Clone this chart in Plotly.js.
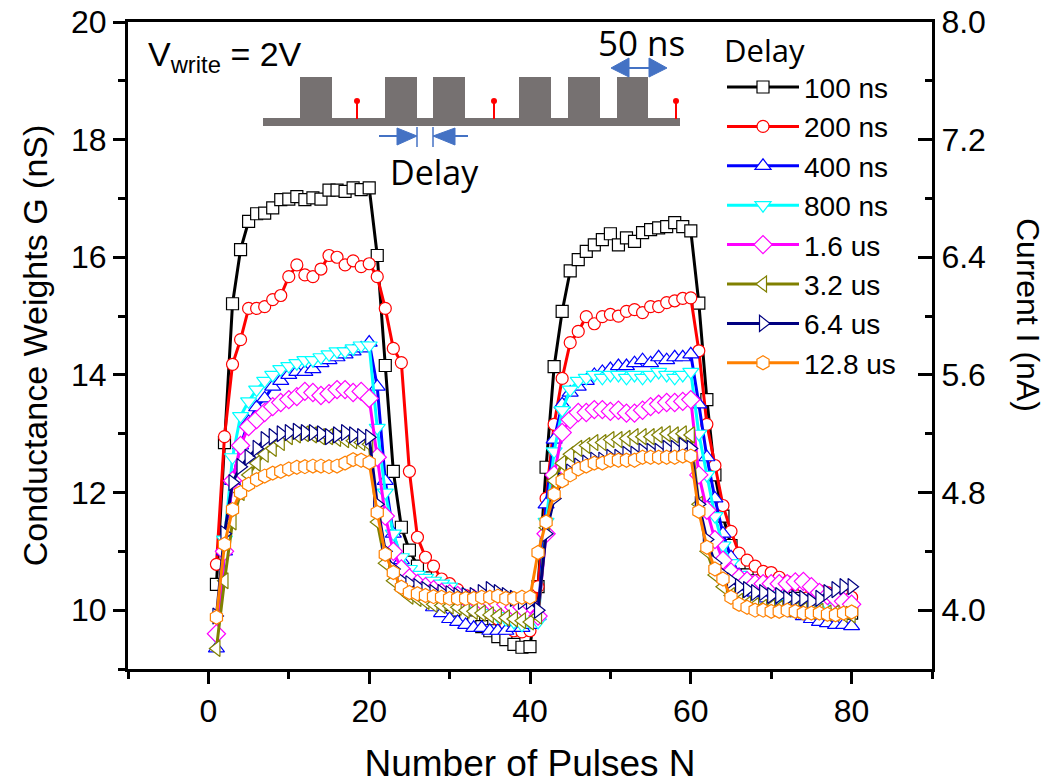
<!DOCTYPE html>
<html>
<head>
<meta charset="utf-8">
<script src="https://cdn.plot.ly/plotly-3.0.1.min.js"></script>
<style>html,body{margin:0;padding:0;background:#fff;}#chart{width:1060px;height:784px;}</style>
</head>
<body>
<div id="chart"></div>
<script>
// ---- data ----
const pulses = Array.from({length: 80}, (_, i) => i + 1);
const seriesNames = ["100 ns", "200 ns", "400 ns", "800 ns", "1.6 us", "3.2 us", "6.4 us", "12.8 us"];
const seriesColors = ["#000000", "#FF0000", "#0000FF", "#00FFFF", "#FF00FF", "#808000", "#000080", "#FF8000"];
const seriesSymbols = ["square", "circle", "triangle-up", "triangle-down", "diamond", "triangle-left", "triangle-right", "hexagon"];

const g100ns = [
  10.44, 12.85, 15.21, 16.13, 16.61, 16.74, 16.75, 16.84, 16.98, 16.99, 17.03, 16.98, 17.01, 16.99, 17.14, 17.14, 17.12, 17.18, 17.15, 17.18,
  16.03, 14.16, 12.36, 11.41, 11.02, 10.75, 10.55, 10.40, 10.25, 10.10, 10.00, 9.90, 9.80, 9.72, 9.65, 9.55, 9.50, 9.42, 9.37, 9.38,
  10.40, 12.43, 14.14, 15.08, 15.77, 15.96, 16.10, 16.21, 16.30, 16.40, 16.21, 16.33, 16.27, 16.42, 16.47, 16.50, 16.52, 16.59, 16.52, 16.45,
  15.22, 13.58, 12.30, 11.60, 11.10, 10.80, 10.60, 10.50, 10.40, 10.35, 10.30, 10.25, 10.20, 10.15, 10.10, 10.10, 10.05, 10.00, 10.00, 9.95
];
const g200ns = [
  10.78, 12.95, 14.18, 14.60, 15.13, 15.13, 15.16, 15.28, 15.35, 15.67, 15.87, 15.70, 15.67, 15.80, 16.03, 16.00, 15.87, 15.94, 15.84, 15.89,
  15.67, 15.13, 14.45, 14.21, 12.36, 11.24, 10.90, 10.75, 10.53, 10.45, 10.35, 10.25, 10.15, 10.05, 9.95, 9.85, 9.75, 9.65, 9.63, 9.65,
  10.40, 11.90, 13.16, 13.94, 14.55, 14.74, 14.99, 14.87, 14.99, 15.03, 15.00, 15.08, 15.11, 15.06, 15.16, 15.16, 15.23, 15.26, 15.30, 15.31,
  14.41, 13.16, 12.46, 11.78, 11.34, 10.97, 10.85, 10.75, 10.66, 10.64, 10.56, 10.48, 10.44, 10.40, 10.37, 10.33, 10.30, 10.28, 10.25, 10.22
];
const g400ns = [
  9.35, 11.00, 12.20, 12.80, 13.20, 13.45, 13.60, 13.80, 13.90, 14.00, 14.05, 14.05, 14.10, 14.20, 14.25, 14.30, 14.35, 14.40, 14.45, 14.55,
  13.80, 12.20, 11.30, 10.85, 10.55, 10.35, 10.20, 10.05, 9.95, 9.85, 9.80, 9.75, 9.70, 9.70, 9.65, 9.65, 9.65, 9.70, 9.70, 9.75,
  9.90, 11.80, 12.90, 13.50, 13.70, 13.80, 13.90, 14.00, 14.05, 14.10, 14.15, 14.15, 14.20, 14.25, 14.20, 14.30, 14.25, 14.30, 14.30, 14.35,
  13.50, 12.60, 11.90, 11.30, 10.90, 10.60, 10.40, 10.30, 10.20, 10.10, 10.05, 10.00, 9.95, 9.90, 9.85, 9.80, 9.78, 9.75, 9.75, 9.73
];
const g800ns = [
  9.55, 11.20, 12.60, 13.30, 13.55, 13.75, 13.90, 14.00, 14.10, 14.15, 14.20, 14.25, 14.25, 14.30, 14.35, 14.40, 14.40, 14.45, 14.50, 14.50,
  13.10, 12.00, 11.30, 10.90, 10.70, 10.60, 10.55, 10.50, 10.45, 10.40, 10.30, 10.20, 10.10, 10.00, 9.95, 9.90, 9.85, 9.80, 9.75, 9.80,
  9.80, 11.50, 12.70, 13.40, 13.75, 13.90, 13.95, 14.00, 13.95, 14.00, 14.00, 13.95, 14.00, 13.95, 14.00, 14.05, 14.00, 13.95, 14.00, 14.05,
  13.00, 12.30, 11.60, 11.10, 10.80, 10.60, 10.50, 10.40, 10.35, 10.30, 10.25, 10.20, 10.15, 10.15, 10.10, 10.10, 10.10, 10.05, 10.05, 10.05
];
const g1p6us = [
  9.60, 11.00, 12.20, 12.80, 13.12, 13.24, 13.36, 13.46, 13.53, 13.58, 13.63, 13.72, 13.70, 13.65, 13.68, 13.75, 13.75, 13.70, 13.72, 13.60,
  12.60, 11.60, 11.00, 10.70, 10.55, 10.45, 10.40, 10.35, 10.30, 10.28, 10.25, 10.20, 10.20, 10.15, 10.15, 10.10, 10.10, 10.05, 10.05, 10.10,
  9.90, 11.30, 12.30, 13.02, 13.24, 13.36, 13.36, 13.41, 13.41, 13.38, 13.40, 13.35, 13.35, 13.40, 13.46, 13.50, 13.53, 13.53, 13.55, 13.58,
  12.30, 11.70, 11.20, 10.85, 10.65, 10.55, 10.50, 10.45, 10.45, 10.45, 10.45, 10.45, 10.48, 10.49, 10.40, 10.30, 10.25, 10.20, 10.15, 10.10
];
const g3p2us = [
  9.35, 10.50, 11.50, 12.00, 12.30, 12.50, 12.65, 12.75, 12.85, 12.95, 12.98, 13.00, 12.98, 12.95, 12.95, 12.92, 12.90, 12.88, 12.85, 12.82,
  11.50, 10.80, 10.50, 10.35, 10.24, 10.20, 10.15, 10.10, 10.08, 10.07, 10.05, 10.00, 9.98, 9.95, 9.92, 9.90, 9.87, 9.85, 9.82, 9.80,
  9.90, 11.40, 12.20, 12.50, 12.65, 12.75, 12.80, 12.85, 12.85, 12.90, 12.90, 12.92, 12.95, 12.95, 12.95, 12.98, 13.00, 12.98, 13.00, 12.98,
  11.80, 11.00, 10.60, 10.40, 10.25, 10.15, 10.10, 10.08, 10.05, 10.05, 10.03, 10.02, 10.00, 10.00, 9.98, 9.98, 9.95, 9.95, 9.93, 9.92
];
const g6p4us = [
  9.90, 11.30, 12.17, 12.44, 12.60, 12.75, 12.90, 12.95, 13.00, 13.02, 13.04, 13.02, 13.02, 13.00, 12.95, 12.98, 13.02, 12.98, 12.95, 12.94,
  11.80, 11.00, 10.70, 10.50, 10.45, 10.40, 10.35, 10.30, 10.30, 10.28, 10.25, 10.25, 10.25, 10.30, 10.35, 10.30, 10.25, 10.20, 10.15, 10.15,
  10.00, 11.30, 11.90, 12.20, 12.35, 12.45, 12.50, 12.55, 12.55, 12.60, 12.60, 12.65, 12.65, 12.70, 12.70, 12.70, 12.75, 12.75, 12.80, 12.75,
  11.80, 11.20, 10.80, 10.60, 10.50, 10.40, 10.35, 10.30, 10.30, 10.25, 10.25, 10.20, 10.20, 10.20, 10.15, 10.20, 10.30, 10.35, 10.40, 10.40
];
const g12p8us = [
  9.88, 11.12, 11.71, 12.00, 12.14, 12.22, 12.28, 12.33, 12.36, 12.40, 12.43, 12.44, 12.45, 12.45, 12.44, 12.45, 12.50, 12.56, 12.55, 12.51,
  11.66, 10.95, 10.64, 10.39, 10.30, 10.28, 10.25, 10.23, 10.22, 10.20, 10.20, 10.20, 10.20, 10.22, 10.22, 10.24, 10.20, 10.20, 10.22, 10.22,
  10.98, 11.50, 11.97, 12.20, 12.30, 12.40, 12.45, 12.50, 12.50, 12.55, 12.55, 12.55, 12.55, 12.60, 12.60, 12.60, 12.60, 12.60, 12.62, 12.62,
  11.68, 11.07, 10.70, 10.53, 10.22, 10.10, 10.05, 10.00, 10.00, 9.98, 9.98, 10.00, 9.98, 9.95, 9.95, 9.95, 9.93, 9.92, 9.95, 9.97
];
const seriesValues = [g100ns, g200ns, g400ns, g800ns, g1p6us, g3p2us, g6p4us, g12p8us];

const xTickVals = [0, 20, 40, 60, 80];
const yLeftTicks = [10, 12, 14, 16, 18, 20];
const yRightTicks = [4.0, 4.8, 5.6, 6.4, 7.2, 8.0];

// ---- geometry helpers (pixel -> paper) for the inset drawing ----
const PL = 128, PR = 932, PT = 22, PB = 669;
const px = v => (v - PL) / (PR - PL);
const py = v => (PB - v) / (PB - PT);

const AF = "Liberation Sans, Arial, sans-serif";
const SF = "Open Sans, Noto Sans, sans-serif";

const traces = seriesNames.map((name, i) => ({
  type: "scatter",
  mode: "lines+markers",
  name: name,
  x: pulses,
  y: seriesValues[i],
  legendgroup: "g" + i,
  line: {color: seriesColors[i], width: 3},
  marker: {
    symbol: seriesSymbols[i],
    size: (seriesSymbols[i].indexOf("triangle") === 0 || seriesSymbols[i] === "diamond" || seriesSymbols[i] === "hexagon") ? 14 : 12,
    color: "#FFFFFF",
    line: {color: seriesColors[i], width: 1.2}
  }
}));
// empty trace that only attaches the right-hand (current) axis
traces.push({type: "scatter", mode: "none", x: [], y: [], yaxis: "y2", showlegend: false, hoverinfo: "skip"});

const grey = "#767171";
const blue = "#4472C4";
const shapes = [];
function rectP(x0, y0, x1, y1, fill) {
  shapes.push({type: "rect", xref: "paper", yref: "paper", x0: px(x0), x1: px(x1), y0: py(y1), y1: py(y0),
    fillcolor: fill, line: {width: 0}, layer: "above"});
}
function lineP(x0, y0, x1, y1, color, w) {
  shapes.push({type: "line", xref: "paper", yref: "paper", x0: px(x0), x1: px(x1), y0: py(y0), y1: py(y1),
    line: {color: color, width: w}, layer: "above"});
}
function triP(pts, color) {
  const d = "M" + pts.map(p => px(p[0]) + "," + py(p[1])).join(" L") + " Z";
  shapes.push({type: "path", xref: "paper", yref: "paper", path: d, fillcolor: color, line: {color: color, width: 1}, layer: "above"});
}
// baseline
rectP(263, 118, 680, 126, grey);
// pulses
[[300, 332], [385, 417], [433, 465], [519, 551], [568, 600], [617, 648]].forEach(p => rectP(p[0], 77, p[1], 120, grey));
// red read pulses
[357, 494, 676].forEach(x => {
  lineP(x, 119, x, 102, "#FF0000", 2);
  shapes.push({type: "circle", xref: "paper", yref: "paper", x0: px(x - 3), x1: px(x + 3), y0: py(104), y1: py(98),
    fillcolor: "#FF0000", line: {color: "#FF0000", width: 0}, layer: "above"});
});
// delay arrows
lineP(379, 136, 400, 136, blue, 2);
triP([[397, 128], [417, 136], [397, 145]], blue);
lineP(417, 127, 417, 147, blue, 1.5);
lineP(433, 127, 433, 147, blue, 1.5);
triP([[455, 128], [433, 136], [455, 145]], blue);
lineP(452, 136, 468, 136, blue, 2);
// 50 ns double arrow
triP([[611, 68], [629, 58], [629, 77]], blue);
triP([[667, 68], [649, 58], [649, 77]], blue);
lineP(627, 68, 651, 68, blue, 2);

const annotations = [
  {xref: "paper", yref: "paper", x: px(146), y: py(56), xanchor: "left", yanchor: "middle", showarrow: false,
   text: "V<sub>write</sub> = 2V", font: {family: AF, size: 34, color: "#000"}},
  {xref: "paper", yref: "paper", x: px(434), y: py(172), xanchor: "center", yanchor: "middle", showarrow: false,
   text: "Delay", font: {family: SF, size: 34, color: "#000"}},
  {xref: "paper", yref: "paper", x: px(641), y: py(42), xanchor: "center", yanchor: "middle", showarrow: false,
   text: "50 ns", font: {family: SF, size: 35, color: "#000"}},
  {xref: "paper", yref: "paper", x: px(1028), y: py(315), xanchor: "center", yanchor: "middle", showarrow: false,
   textangle: 90, text: "Current I (nA)", font: {family: AF, size: 32, color: "#000"}}
];

const axisCommon = {
  showgrid: false, zeroline: false, showline: true, linecolor: "#000", linewidth: 3,
  tickcolor: "#000", tickwidth: 3, tickfont: {family: AF, size: 32, color: "#000"}
};

const layout = {
  width: 1060, height: 784,
  margin: {l: PL, r: 1060 - PR, t: PT, b: 784 - PB},
  paper_bgcolor: "#fff", plot_bgcolor: "#fff",
  showlegend: true,
  legend: {
    x: px(722), y: py(22), xanchor: "left", yanchor: "top",
    bgcolor: "rgba(0,0,0,0)", borderwidth: 0,
    font: {family: AF, size: 28, color: "#000"},
    itemwidth: 72, tracegroupgap: 0,
    title: {text: "Delay", font: {family: SF, size: 31, color: "#000"}}
  },
  xaxis: Object.assign({}, axisCommon, {
    range: [-10, 90], tickvals: xTickVals, ticks: "outside", ticklen: 12, mirror: true,
    minor: {dtick: 10, tick0: 0, ticks: "outside", ticklen: 7, tickwidth: 3, tickcolor: "#000"},
    title: {text: "Number of Pulses N", font: {family: AF, size: 37, color: "#000"}, standoff: 34}
  }),
  yaxis: Object.assign({}, axisCommon, {
    range: [9, 20], tickvals: yLeftTicks, ticks: "outside", ticklen: 12,
    minor: {dtick: 1, tick0: 0, ticks: "outside", ticklen: 7, tickwidth: 3, tickcolor: "#000"},
    title: {text: "Conductance Weights G (nS)", font: {family: AF, size: 34, color: "#000"}, standoff: 14}
  }),
  yaxis2: Object.assign({}, axisCommon, {
    overlaying: "y", side: "right", anchor: "x",
    range: [3.6, 8.0], tickvals: yRightTicks, tickformat: ".1f", ticks: "inside", ticklen: 14,
    minor: {dtick: 0.4, tick0: 0, ticks: "inside", ticklen: 7, tickwidth: 3, tickcolor: "#000"}
  }),
  shapes: shapes,
  annotations: annotations
};

Plotly.newPlot("chart", traces, layout, {displayModeBar: false, staticPlot: true});
</script>
</body>
</html>
